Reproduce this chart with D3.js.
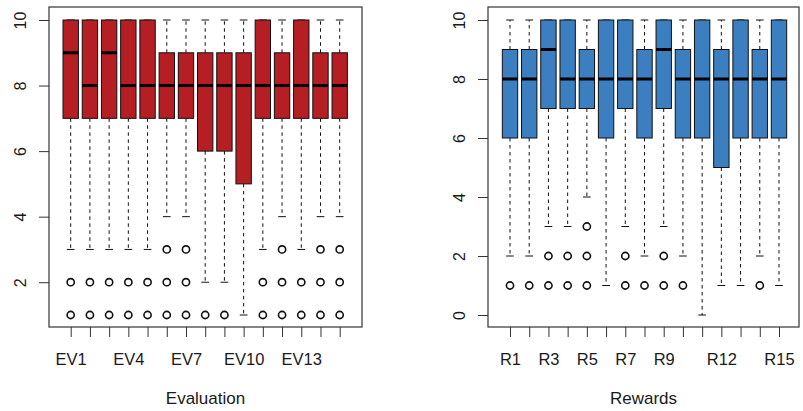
<!DOCTYPE html>
<html>
<head>
<meta charset="utf-8">
<script src="https://cdn.jsdelivr.net/npm/d3@7"></script>
<style>
  body { margin: 0; background: #fff; }
  text { font-family: "Liberation Sans", Arial, sans-serif; fill: #1a1a1a; }
</style>
</head>
<body>
<div id="chart"></div>
<script>
// Evaluation items (left panel)
const evNames = ["EV1","EV2","EV3","EV4","EV5","EV6","EV7","EV8","EV9","EV10","EV11","EV12","EV13","EV14","EV15"];
const evLow   = [3, 3, 3, 3, 3, 4, 4, 2, 2, 1, 3, 4, 3, 4, 4];
const evQ1    = [7, 7, 7, 7, 7, 7, 7, 6, 6, 5, 7, 7, 7, 7, 7];
const evMed   = [9, 8, 9, 8, 8, 8, 8, 8, 8, 8, 8, 8, 8, 8, 8];
const evQ3    = [10, 10, 10, 10, 10, 9, 9, 9, 9, 9, 10, 9, 10, 9, 9];
const evHigh  = [10, 10, 10, 10, 10, 10, 10, 10, 10, 10, 10, 10, 10, 10, 10];
const evOut   = [[2,1],[2,1],[2,1],[2,1],[2,1],[3,2,1],[3,2,1],[1],[1],[],[2,1],[3,2,1],[2,1],[3,2,1],[3,2,1]];
const evShown = ["EV1","EV4","EV7","EV10","EV13"];
const evTicks = [2, 4, 6, 8, 10];

// Rewards items (right panel)
const rNames = ["R1","R2","R3","R4","R5","R6","R7","R8","R9","R10","R11","R12","R13","R14","R15"];
const rLow   = [2, 2, 3, 3, 4, 1, 3, 2, 3, 2, 0, 1, 1, 2, 1];
const rQ1    = [6, 6, 7, 7, 7, 6, 7, 6, 7, 6, 6, 5, 6, 6, 6];
const rMed   = [8, 8, 9, 8, 8, 8, 8, 8, 9, 8, 8, 8, 8, 8, 8];
const rQ3    = [9, 9, 10, 10, 9, 10, 10, 9, 10, 9, 10, 9, 10, 9, 10];
const rHigh  = [10, 10, 10, 10, 10, 10, 10, 10, 10, 10, 10, 10, 10, 10, 10];
const rOut   = [[1],[1],[2,1],[2,1],[3,2,1],[],[2,1],[1],[2,1],[1],[],[],[],[1],[]];
const rShown = ["R1","R3","R5","R7","R9","R12","R15"];
const rTicks = [0, 2, 4, 6, 8, 10];

const width = 803, height = 411;
const svg = d3.select("#chart").append("svg").attr("width", width).attr("height", height);

function drawPanel(opt) {
  const n = opt.names.length;
  const data = opt.names.map((name, i) => ({
    name: name, idx: i + 1,
    low: opt.low[i], q1: opt.q1[i], med: opt.med[i], q3: opt.q3[i], high: opt.high[i],
    out: opt.out[i]
  }));

  //Scales
  const x = d3.scaleLinear().domain([1, n]).range([opt.first, opt.last]);
  const y = d3.scaleLinear().domain(opt.yDomain).range([315, 20]);
  const boxW = 0.8 * (x(2) - x(1));
  const capW = boxW / 2;

  const g = svg.append("g");

  //Whiskers
  const wh = g.selectAll(".whisk").data(data).enter().append("g");
  wh.append("line")
    .attr("x1", d => x(d.idx)).attr("x2", d => x(d.idx))
    .attr("y1", d => y(d.q1)).attr("y2", d => y(d.low))
    .attr("stroke", "#111").attr("stroke-dasharray", "3.5,3.5");
  wh.append("line")
    .attr("x1", d => x(d.idx)).attr("x2", d => x(d.idx))
    .attr("y1", d => y(d.q3)).attr("y2", d => y(d.high))
    .attr("stroke", "#111").attr("stroke-dasharray", "3.5,3.5");
  wh.append("line")
    .attr("x1", d => x(d.idx) - capW / 2).attr("x2", d => x(d.idx) + capW / 2)
    .attr("y1", d => y(d.low)).attr("y2", d => y(d.low))
    .attr("stroke", "#111");
  wh.append("line")
    .attr("x1", d => x(d.idx) - capW / 2).attr("x2", d => x(d.idx) + capW / 2)
    .attr("y1", d => y(d.high)).attr("y2", d => y(d.high))
    .attr("stroke", "#111");

  //Boxes
  g.selectAll(".box").data(data).enter().append("rect")
    .attr("x", d => x(d.idx) - boxW / 2)
    .attr("y", d => y(d.q3))
    .attr("width", boxW)
    .attr("height", d => y(d.q1) - y(d.q3))
    .attr("fill", opt.color)
    .attr("stroke", "#111").attr("stroke-width", 1);

  //Medians
  g.selectAll(".med").data(data).enter().append("line")
    .attr("x1", d => x(d.idx) - boxW / 2).attr("x2", d => x(d.idx) + boxW / 2)
    .attr("y1", d => y(d.med)).attr("y2", d => y(d.med))
    .attr("stroke", "#000").attr("stroke-width", 3);

  //Outliers
  const pts = [];
  data.forEach(d => d.out.forEach(v => pts.push({idx: d.idx, v: v})));
  g.selectAll(".out").data(pts).enter().append("circle")
    .attr("cx", d => x(d.idx)).attr("cy", d => y(d.v))
    .attr("r", 3.6)
    .attr("fill", "none").attr("stroke", "#111").attr("stroke-width", 1.6);

  //Frame
  g.append("rect")
    .attr("x", opt.left).attr("y", 7)
    .attr("width", opt.right - opt.left).attr("height", 320)
    .attr("fill", "none").attr("stroke", "#333").attr("stroke-width", 1.2);

  //Axes
  const yAxis = d3.axisLeft(y).tickValues(opt.ticks).tickSize(10).tickFormat(d3.format("d"));
  const yg = g.append("g").attr("transform", `translate(${opt.left},0)`).call(yAxis);
  yg.select(".domain").remove();
  yg.selectAll(".tick line").attr("stroke", "#333");
  yg.selectAll(".tick text")
    .attr("x", null).attr("dy", null)
    .attr("transform", "translate(-23,0) rotate(-90)")
    .attr("text-anchor", "middle")
    .style("font-size", "16px").style("font-family", "Liberation Sans, Arial, sans-serif");

  const xAxis = d3.axisBottom(x).tickValues(d3.range(1, n + 1)).tickSize(10)
    .tickFormat(i => opt.shown.includes(opt.names[i - 1]) ? opt.names[i - 1] : "");
  const xg = g.append("g").attr("transform", "translate(0,327)").call(xAxis);
  xg.select(".domain").remove();
  xg.selectAll(".tick line").attr("stroke", "#333");
  xg.selectAll(".tick text")
    .attr("y", 38).attr("dy", null)
    .style("font-size", "16.5px").style("font-family", "Liberation Sans, Arial, sans-serif");

  g.append("text")
    .attr("x", (opt.left + opt.right) / 2).attr("y", 404)
    .attr("text-anchor", "middle")
    .style("font-size", "17px")
    .text(opt.title);
}

drawPanel({
  names: evNames, low: evLow, q1: evQ1, med: evMed, q3: evQ3, high: evHigh, out: evOut,
  shown: evShown, ticks: evTicks, yDomain: [1, 10],
  left: 49, right: 362, first: 70.7, last: 339.7,
  color: "#b51f24", title: "Evaluation"
});

drawPanel({
  names: rNames, low: rLow, q1: rQ1, med: rMed, q3: rQ3, high: rHigh, out: rOut,
  shown: rShown, ticks: rTicks, yDomain: [0, 10],
  left: 488, right: 799, first: 510, last: 779,
  color: "#3b7fc1", title: "Rewards"
});
</script>
</body>
</html>
